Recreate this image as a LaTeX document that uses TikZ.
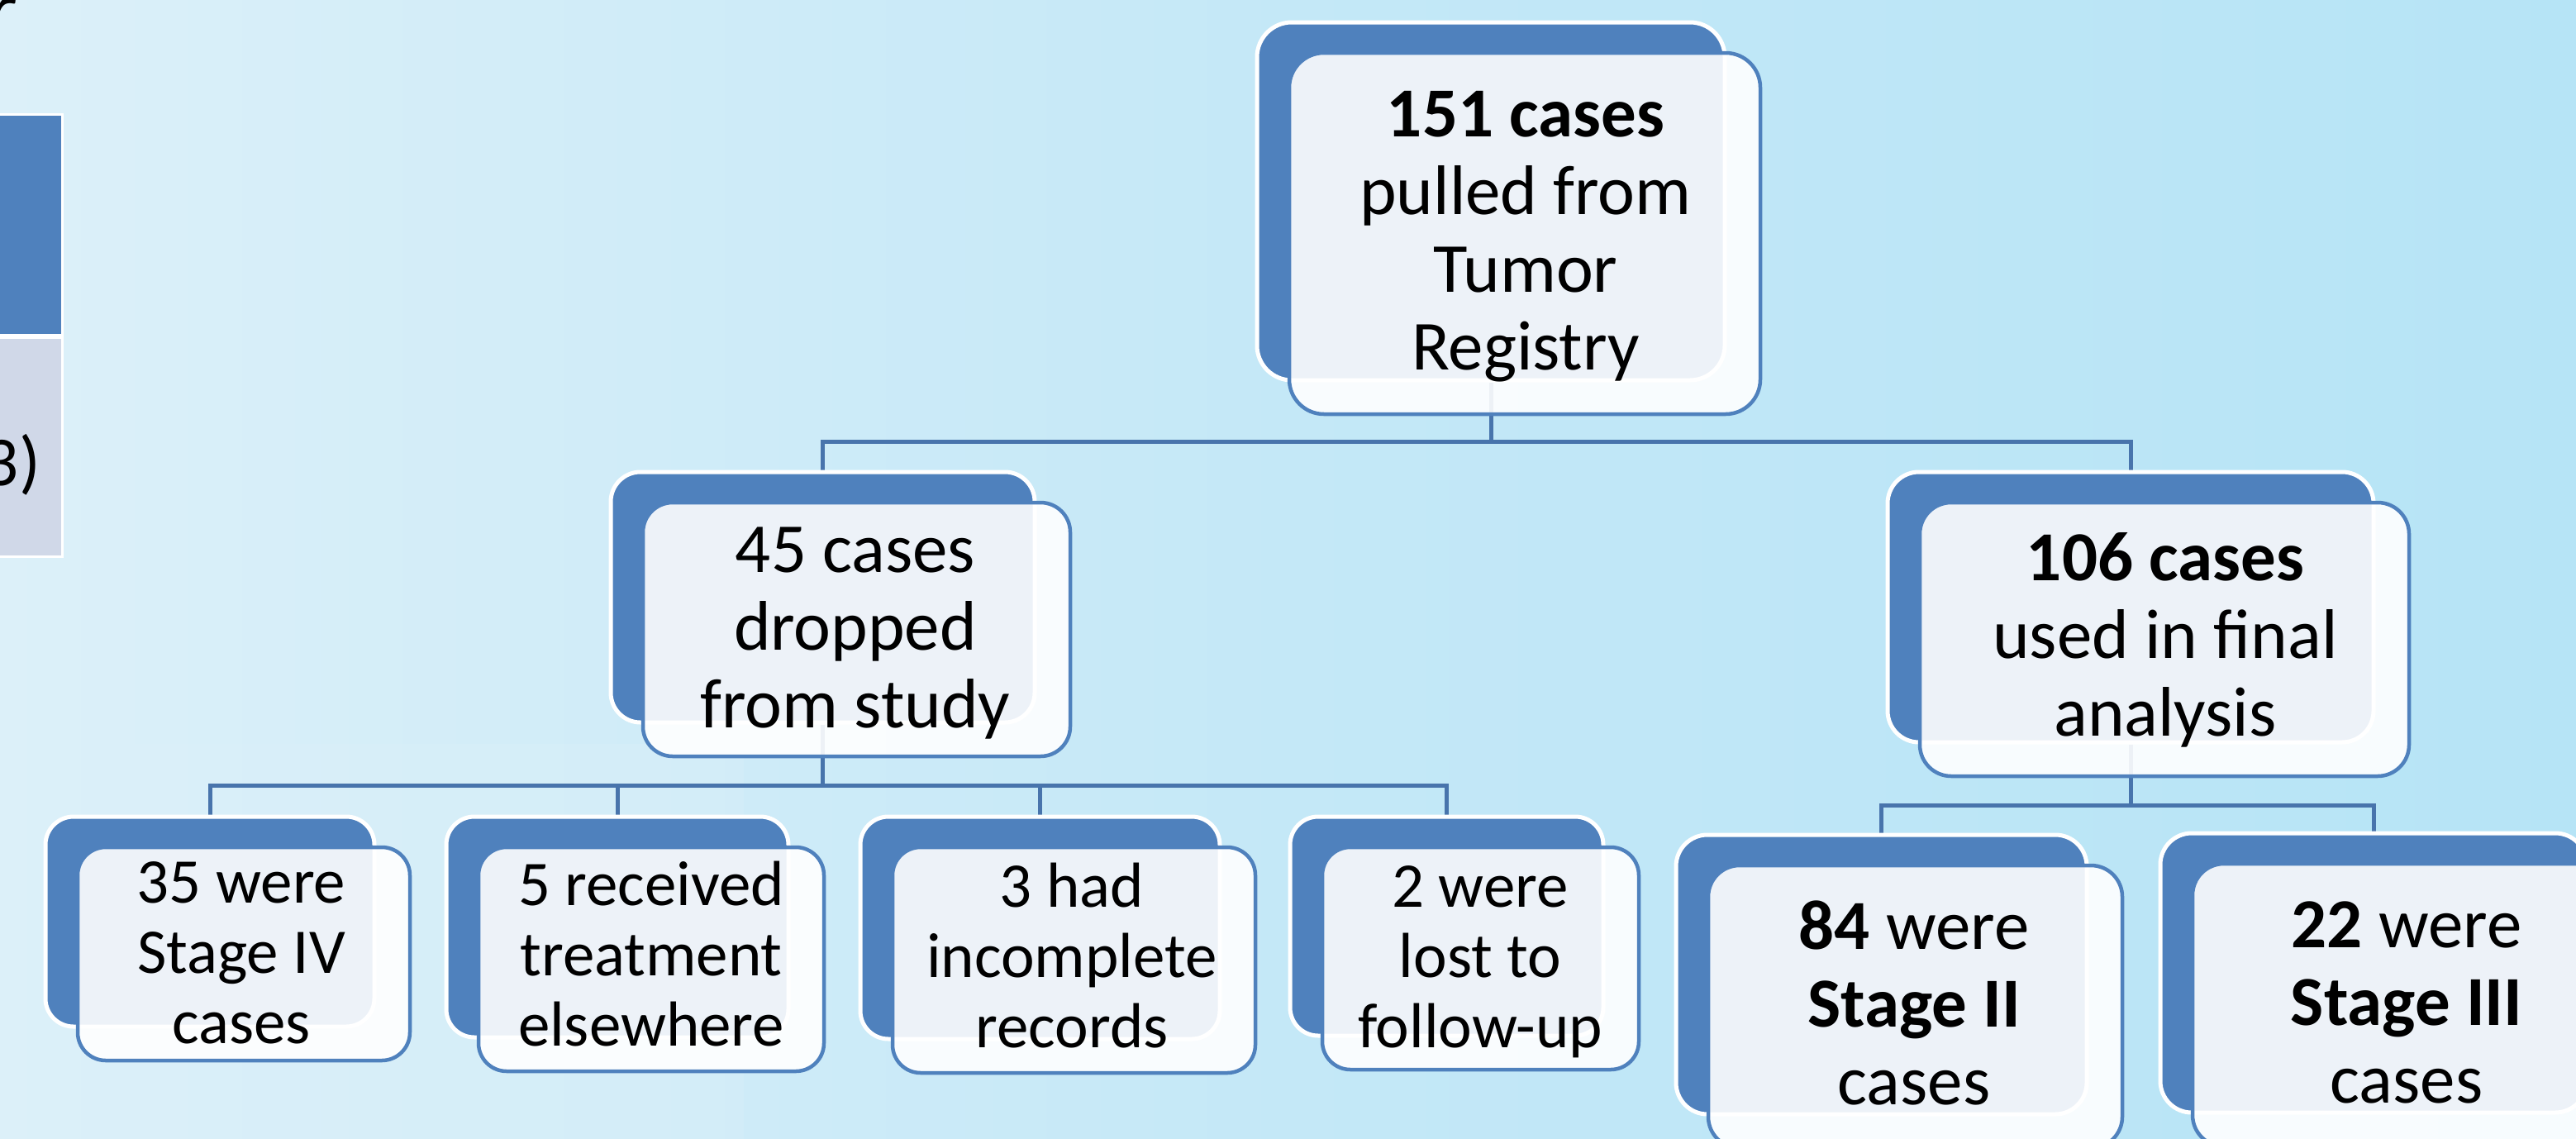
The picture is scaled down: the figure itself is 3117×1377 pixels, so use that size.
\documentclass[tikz,border=0pt]{standalone}
\usepackage{fontspec}
\setmainfont{Carlito}
\usetikzlibrary{calc}
\definecolor{accent}{RGB}{79,129,189}
\definecolor{conn}{RGB}{72,116,172}
\definecolor{bgL}{RGB}{220,240,249}
\definecolor{bgM}{RGB}{196,232,247}
\definecolor{bgR}{RGB}{182,228,246}
\definecolor{cellgray}{RGB}{208,216,232}
\pgfdeclarelayer{bglayer}
\pgfdeclarelayer{lnklayer}
\pgfsetlayers{bglayer,lnklayer,main}
\tikzset{
  backbox/.style={draw=white, line width=5pt, fill=accent, rounded corners=36pt, inner sep=0pt},
  frontbox/.style={draw=accent, line width=4.5pt, fill=white, fill opacity=0.9, draw opacity=1, rounded corners=36pt, inner sep=0pt},
  bigtxt/.style={font=\fontsize{85}{94}\selectfont, align=center, inner sep=0pt, text=black},
  smalltxt/.style={font=\fontsize{77}{85}\selectfont, align=center, inner sep=0pt, text=black},
  link/.style={draw=conn, line width=5pt},
}
% name, cx, cy, W, H, radius
\newcommand\boxpair[6]{%
  \node[backbox, rounded corners=#6pt, minimum width=#4pt, minimum height=#5pt] (#1) at (#2,#3) {};
  \node[frontbox, rounded corners=#6pt, minimum width=#4pt+4pt, minimum height=#5pt+4pt] (#1f) at ($(#1)+(41,39)$) {};
}
\begin{document}
\begin{tikzpicture}[x=1pt,y=-1pt]
\useasboundingbox (0,0) rectangle (3117,1377);
\clip (0,0) rectangle (3117,1377);
\begin{pgfonlayer}{bglayer}
  \shade[left color=bgL, right color=bgR, middle color=bgM] (0,0) rectangle (3117,1377);
  \shade[top color=bgL, bottom color=bgL, middle color=bgL, opacity=0.35] (0,900) rectangle (900,1377);
\end{pgfonlayer}

% partial table at left edge
\draw[white, line width=3pt, fill=accent] (-10,138) rectangle (75,405);
\draw[white, line width=3pt, fill=cellgray] (-10,408) rectangle (75,673);
\node[font=\fontsize{85}{94}\selectfont, anchor=base east, inner sep=0pt] (cell) at (49,587) {3)};
\node[font=\fontsize{110}{120}\selectfont, anchor=base east, inner sep=0pt] (title) at (22,48) {r};

% boxes
\boxpair{top}{1804}{243.5}{566}{433}{42}
\boxpair{drop}{995.5}{722.5}{513}{303}{36}
\boxpair{used}{2578}{734.5}{588}{327}{38}
\boxpair{sA}{254}{1115}{398}{254}{34}
\boxpair{sB}{747}{1121.5}{414}{267}{34}
\boxpair{sC}{1258.5}{1122.5}{435}{269}{34}
\boxpair{sD}{1750.5}{1120.5}{379}{265}{34}
\boxpair{sE}{2276.5}{1179}{497}{338}{38}
\boxpair{sF}{2872}{1177}{516}{338}{38}

% texts
\node[bigtxt] (t151) at (1846,288) {\strut\textbf{151 cases}\\\strut pulled from\\\strut Tumor\\\strut Registry};
\node[bigtxt] (t45) at (1035,768) {\strut 45 cases\\\strut dropped\\\strut from study};
\node[bigtxt] (t106) at (2620,778) {\strut\textbf{106 cases}\\\strut used in final\\\strut analysis};
\node[bigtxt] (t84) at (2316,1224) {\strut\textbf{84} were\\\strut\textbf{Stage II}\\\strut cases};
\node[bigtxt] (t22) at (2912,1222) {\strut\textbf{22} were\\\strut\textbf{Stage III}\\\strut cases};
\node[smalltxt] (t35) at (292,1160) {\strut 35 were\\\strut Stage IV\\\strut cases};
\node[smalltxt] (t5) at (788,1163) {\strut 5 received\\\strut treatment\\\strut elsewhere};
\node[smalltxt] (t3) at (1297,1165) {\strut 3 had\\\strut incomplete\\\strut records};
\node[smalltxt] (t2) at (1791,1165) {\strut 2 were\\\strut lost to\\\strut follow-up};

% connectors
\coordinate (h1) at (0,534);
\coordinate (h2) at (0,950);
\coordinate (h3) at (0,974);
\begin{pgfonlayer}{lnklayer}
  \draw[link] (top.south) -- (top.south |- h1);
  \draw[link] (drop.north) -- (drop.north |- h1) -- (used.north |- h1) -- (used.north);
  \draw[link] (drop.south) -- (drop.south |- h2);
  \draw[link] (sA.north) -- (sA.north |- h2) -- (sD.north |- h2) -- (sD.north);
  \draw[link] (sB.north) -- (sB.north |- h2);
  \draw[link] (sC.north) -- (sC.north |- h2);
  \draw[link] (used.south) -- (used.south |- h3);
  \draw[link] (sE.north) -- (sE.north |- h3) -- (sF.north |- h3) -- (sF.north);
\end{pgfonlayer}
\end{tikzpicture}
\end{document}
